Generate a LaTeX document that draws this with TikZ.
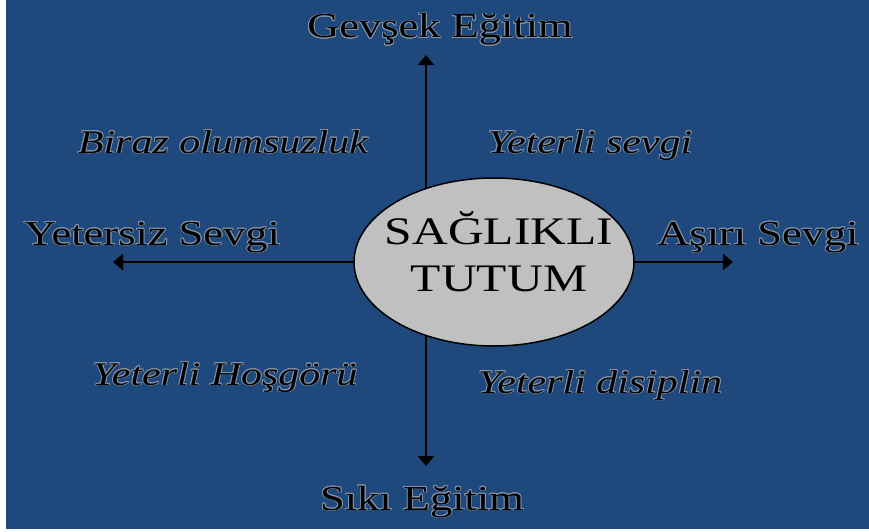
\documentclass[tikz,border=0pt]{standalone}
\usepackage{fontspec}
\setmainfont{Liberation Serif}[FakeStretch=1.27]
\usepackage{contour}
\contourlength{0.9pt}
\usetikzlibrary{arrows.meta,shapes.geometric}
\definecolor{slideblue}{RGB}{31,73,125}
\definecolor{hubgray}{RGB}{192,192,192}
\definecolor{halogray}{RGB}{130,145,165}
\newcommand{\halo}[1]{\contour{halogray}{#1}}

\begin{document}
\begin{tikzpicture}[x=1pt,y=-1pt,pole/.style={line width=2pt,-{Triangle[length=10pt,width=16pt]}},side/.style={anchor=base,inner sep=0pt,text=black,font=\fontsize{35}{40}\selectfont},trait/.style={anchor=base,inner sep=0pt,text=black,font=\fontsize{33}{38}\selectfont\itshape},hub/.style={ellipse,draw,line width=1.5pt,fill=hubgray,minimum width=280pt,minimum height=168pt,inner sep=0pt}]
\useasboundingbox (0,0) rectangle (869,532);
\fill[white] (0,0) rectangle (869,532);
\fill[slideblue] (6,0) rectangle (869,529);
\coordinate (hub) at (426,262);
\coordinate (up) at (426,55);
\coordinate (down) at (426,466);
\coordinate (left) at (113,262);
\coordinate (right) at (733,262);
\draw[pole] (hub) -- (up);
\draw[pole] (hub) -- (down);
\draw[pole] (hub) -- (left);
\draw[pole] (hub) -- (right);
\node[hub] (tutum) at (494,262) {};
\node[align=center,inner sep=0pt,font=\fontsize{39}{47}\selectfont] (tutumText) at (499,252) {SAĞLIKLI\\TUTUM};
\node[side] (gevsek) at (440,38) {\halo{Gevşek Eğitim}};
\node[side] (siki) at (422,510) {\halo{Sıkı Eğitim}};
\node[side] (yetersiz) at (152,245) {\halo{Yetersiz Sevgi}};
\node[side] (asiri) at (758,245) {\halo{Aşırı Sevgi}};
\node[trait] (olumsuz) at (223,153) {\halo{Biraz olumsuzluk}};
\node[trait] (sevgi) at (590,153) {\halo{Yeterli sevgi}};
\node[trait] (hosgoru) at (225,385) {\halo{Yeterli Hoşgörü}};
\node[trait] (disiplin) at (600,393) {\halo{Yeterli disiplin}};
\end{tikzpicture}
\end{document}
